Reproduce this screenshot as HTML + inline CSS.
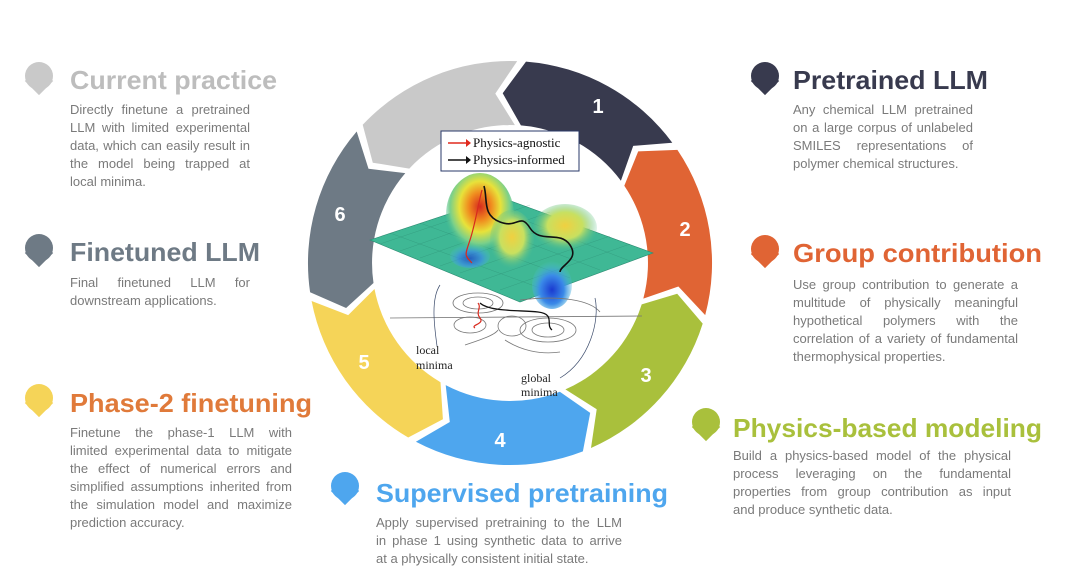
<!DOCTYPE html>
<html><head><meta charset="utf-8"><style>
body{margin:0;background:#fff;}
#w{position:relative;width:1080px;height:569px;overflow:hidden;font-family:"Liberation Sans",sans-serif;}
.b{position:absolute;font-size:13px;line-height:18px;color:#7a7a7a;}
.b div{white-space:nowrap;text-align:justify;text-align-last:justify;}
.b div.l{text-align-last:left;}
svg{position:absolute;left:0;top:0;}
</style></head><body><div id="w">
<svg width="1080" height="569" viewBox="0 0 1080 569">
<defs>
<radialGradient id="pk" cx="50%" cy="40%" r="55%"><stop offset="0" stop-color="#d62a1e"/><stop offset=".3" stop-color="#f08a1e"/><stop offset=".55" stop-color="#e8e23a"/><stop offset=".8" stop-color="#7ad08a"/><stop offset="1" stop-color="#3fb895" stop-opacity="0"/></radialGradient>
<radialGradient id="pk2" cx="50%" cy="45%" r="55%"><stop offset="0" stop-color="#f0d040"/><stop offset=".5" stop-color="#c8e060"/><stop offset="1" stop-color="#3fb895" stop-opacity="0"/></radialGradient>
<radialGradient id="wl" cx="50%" cy="60%" r="60%"><stop offset="0" stop-color="#1a3ad0"/><stop offset=".5" stop-color="#3a8ae8"/><stop offset="1" stop-color="#50c8d8" stop-opacity="0"/></radialGradient>
</defs>
<path fill="#383a4e" d="M526.0,61.6 A202,202 0 0 1 672.3,142.7 L633.2,145.9 L620.9,180.8 A138,138 0 0 0 520.9,125.4 L502.7,93.2Z"/>
<path fill="#e06434" d="M677.4,149.9 A202,202 0 0 1 705.2,315.1 L678.4,286.5 L643.3,298.6 A138,138 0 0 0 624.3,185.7 L638.2,151.4Z"/>
<path fill="#a9c03c" d="M702.7,323.6 A202,202 0 0 1 591.0,448.0 L596.7,409.2 L565.4,389.4 A138,138 0 0 0 641.7,304.4 L677.2,293.8Z"/>
<path fill="#4ea6ee" d="M582.9,451.4 A202,202 0 0 1 415.9,441.8 L449.8,422.0 L445.7,385.1 A138,138 0 0 0 559.8,391.7 L590.2,412.9Z"/>
<path fill="#f5d458" d="M408.2,437.5 A202,202 0 0 1 311.6,301.0 L348.2,315.1 L374.5,289.0 A138,138 0 0 0 440.5,382.2 L442.9,419.2Z"/>
<path fill="#6e7a85" d="M310.1,292.3 A202,202 0 0 1 356.7,131.5 L368.5,168.8 L405.3,173.1 A138,138 0 0 0 373.5,283.0 L346.1,308.0Z"/>
<path fill="#c9c9c9" d="M362.7,124.8 A202,202 0 0 1 517.2,61.1 L495.3,93.6 L514.9,125.1 A138,138 0 0 0 409.3,168.6 L372.8,162.7Z"/>
<g fill="#fff" font-family="Liberation Sans,sans-serif" font-weight="bold" font-size="20" text-anchor="middle">
<text x="598" y="113">1</text><text x="685" y="236">2</text><text x="646" y="382">3</text><text x="500" y="447">4</text><text x="364" y="369">5</text><text x="340" y="221">6</text></g>
<polygon points="370,240 500,197 653,253 520,302" fill="#3fb895" stroke="#2a8a70" stroke-width=".6"/>
<g stroke="#1f6a58" stroke-width=".3" opacity=".5">
<line x1="380" y1="244" x2="510" y2="200"/><line x1="400" y1="251" x2="530" y2="205"/><line x1="420" y1="258" x2="550" y2="212"/><line x1="440" y1="266" x2="570" y2="220"/><line x1="460" y1="273" x2="590" y2="228"/><line x1="480" y1="281" x2="610" y2="236"/><line x1="500" y1="290" x2="630" y2="244"/>
<line x1="390" y1="233" x2="540" y2="288"/><line x1="420" y1="223" x2="570" y2="278"/><line x1="450" y1="213" x2="600" y2="270"/><line x1="480" y1="203" x2="630" y2="261"/></g>
<ellipse cx="480" cy="215" rx="34" ry="42" fill="url(#pk)"/>
<ellipse cx="512" cy="240" rx="22" ry="30" fill="url(#pk2)"/>
<ellipse cx="565" cy="228" rx="32" ry="24" fill="url(#pk2)"/>
<ellipse cx="552" cy="285" rx="20" ry="24" fill="url(#wl)"/>
<ellipse cx="470" cy="256" rx="20" ry="12" fill="url(#wl)" opacity=".7"/>
<path d="M484,186 C488,200 482,215 500,222 S520,212 530,228 S560,230 570,245 S560,265 560,272" fill="none" stroke="#111" stroke-width="1.6"/>
<path d="M482,190 C478,205 475,225 470,240 S464,255 472,263" fill="none" stroke="#d82a1e" stroke-width="1.2"/>
<g fill="none" stroke="#777" stroke-width=".8">
<line x1="390" y1="318" x2="642" y2="316"/>
<ellipse cx="478" cy="303" rx="25" ry="10"/><ellipse cx="478" cy="303" rx="15" ry="6"/>
<ellipse cx="470" cy="325" rx="16" ry="8"/><ellipse cx="512" cy="326" rx="14" ry="10"/>
<ellipse cx="548" cy="330" rx="28" ry="12"/><ellipse cx="548" cy="330" rx="16" ry="7"/>
<path d="M520,300 C560,295 590,300 600,312"/><path d="M505,340 C520,350 540,355 560,352"/>
<path d="M465,345 C480,340 495,335 498,330"/></g>
<path d="M478,303 C482,308 475,312 480,318 S470,325 475,328" fill="none" stroke="#d82a1e" stroke-width="1.2"/>
<path d="M480,303 C490,312 520,310 538,312 S545,325 552,330" fill="none" stroke="#111" stroke-width="1.3"/>
<path d="M440,285 C430,300 435,330 437,346" fill="none" stroke="#3a4a6a" stroke-width=".7"/>
<path d="M595,298 C600,320 590,360 560,378" fill="none" stroke="#3a4a6a" stroke-width=".7"/>
<g font-family="Liberation Serif,serif" font-size="12" fill="#222">
<text x="416" y="354">local</text><text x="416" y="369">minima</text>
<text x="521" y="382">global</text><text x="521" y="396">minima</text></g>
<rect x="441" y="131" width="138" height="40" fill="#fff" stroke="#2a3a6a" stroke-width="1"/>
<g stroke-width="1.5"><line x1="448" y1="143" x2="466" y2="143" stroke="#e02a1e"/><polygon points="466,139 471,143 466,147" fill="#e02a1e"/>
<line x1="448" y1="160" x2="466" y2="160" stroke="#111"/><polygon points="466,156 471,160 466,164" fill="#111"/></g>
<g font-family="Liberation Serif,serif" font-size="13" fill="#111"><text x="473" y="147">Physics-agnostic</text><text x="473" y="164">Physics-informed</text></g>
<g>
<g transform="translate(39,76)"><rect x="-10" y="-10" width="20" height="20" fill="#c9c9c9" transform="translate(0,5) rotate(45)"/><circle r="14" fill="#c9c9c9"/></g>
<g transform="translate(39,248)"><rect x="-10" y="-10" width="20" height="20" fill="#6e7a85" transform="translate(0,5) rotate(45)"/><circle r="14" fill="#6e7a85"/></g>
<g transform="translate(39,398)"><rect x="-10" y="-10" width="20" height="20" fill="#f5d458" transform="translate(0,5) rotate(45)"/><circle r="14" fill="#f5d458"/></g>
<g transform="translate(765,76)"><rect x="-10" y="-10" width="20" height="20" fill="#383a4e" transform="translate(0,5) rotate(45)"/><circle r="14" fill="#383a4e"/></g>
<g transform="translate(765,249)"><rect x="-10" y="-10" width="20" height="20" fill="#e06434" transform="translate(0,5) rotate(45)"/><circle r="14" fill="#e06434"/></g>
<g transform="translate(706,422)"><rect x="-10" y="-10" width="20" height="20" fill="#a9c03c" transform="translate(0,5) rotate(45)"/><circle r="14" fill="#a9c03c"/></g>
<g transform="translate(345,486)"><rect x="-10" y="-10" width="20" height="20" fill="#4ea6ee" transform="translate(0,5) rotate(45)"/><circle r="14" fill="#4ea6ee"/></g>
</g>
<g font-family="Liberation Sans,sans-serif" font-weight="bold" font-size="26">
<text x="70" y="89" fill="#bdbdbd" textLength="207" lengthAdjust="spacingAndGlyphs">Current practice</text>
<text x="70" y="261" fill="#6e7a85" textLength="190" lengthAdjust="spacingAndGlyphs">Finetuned LLM</text>
<text x="70" y="412" fill="#e07a3a" textLength="242" lengthAdjust="spacingAndGlyphs">Phase-2 finetuning</text>
<text x="793" y="89" fill="#383a4e" textLength="195" lengthAdjust="spacingAndGlyphs">Pretrained LLM</text>
<text x="793" y="262" fill="#e06434" textLength="249" lengthAdjust="spacingAndGlyphs">Group contribution</text>
<text x="733" y="437" fill="#a9c03c" textLength="309" lengthAdjust="spacingAndGlyphs">Physics-based modeling</text>
<text x="376" y="502" fill="#4ea6ee" textLength="292" lengthAdjust="spacingAndGlyphs">Supervised pretraining</text>
</g>
</svg>
<div class="b" style="left:70px;top:101px;width:180px"><div>Directly finetune a pretrained</div><div>LLM with limited experimental</div><div>data, which can easily result in</div><div>the model being trapped at</div><div class="l">local minima.</div></div>
<div class="b" style="left:70px;top:274px;width:180px"><div>Final finetuned LLM for</div><div class="l">downstream applications.</div></div>
<div class="b" style="left:70px;top:424px;width:222px"><div>Finetune the phase-1 LLM with</div><div>limited experimental data to mitigate</div><div>the effect of numerical errors and</div><div>simplified assumptions inherited from</div><div>the simulation model and maximize</div><div class="l">prediction accuracy.</div></div>
<div class="b" style="left:793px;top:101px;width:180px"><div>Any chemical LLM pretrained</div><div>on a large corpus of unlabeled</div><div>SMILES representations of</div><div class="l">polymer chemical structures.</div></div>
<div class="b" style="left:793px;top:276px;width:225px"><div>Use group contribution to generate a</div><div>multitude of physically meaningful</div><div>hypothetical polymers with the</div><div>correlation of a variety of fundamental</div><div class="l">thermophysical properties.</div></div>
<div class="b" style="left:733px;top:447px;width:278px"><div>Build a physics-based model of the physical</div><div>process leveraging on the fundamental</div><div>properties from group contribution as input</div><div class="l">and produce synthetic data.</div></div>
<div class="b" style="left:376px;top:514px;width:246px"><div>Apply supervised pretraining to the LLM</div><div>in phase 1 using synthetic data to arrive</div><div class="l">at a physically consistent initial state.</div></div>
</div></body></html>
